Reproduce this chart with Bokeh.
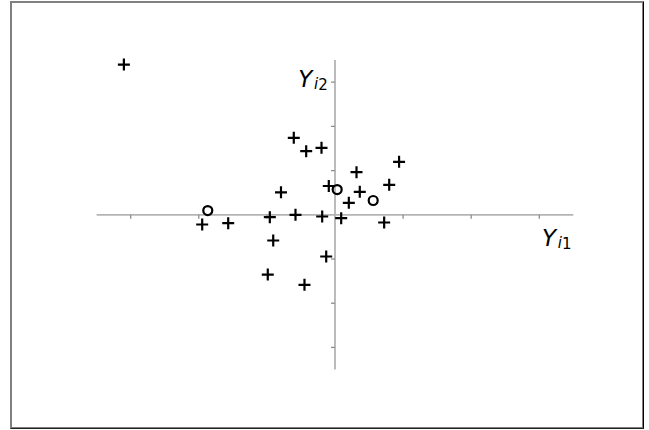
from bokeh.plotting import figure
from bokeh.models import Span, Label
from bokeh.embed import file_html
from bokeh.resources import INLINE

# data: plus markers (Y_i1, Y_i2)
plus_y1 = [-3.10, -0.605, -0.423, -0.198, 0.941, 0.316, 0.796, -0.091, 0.364, -0.793, 0.203,
           -0.957, -0.580, -0.188, 0.091, -1.950, -1.568, 0.722, -0.907, -0.129, -0.987, -0.448]
plus_y2 = [3.40, 1.742, 1.439, 1.516, 1.199, 0.964, 0.679, 0.652, 0.520, 0.509, 0.271,
           -0.054, 0.0, -0.038, -0.077, -0.219, -0.190, -0.174, -0.581, -0.943, -1.351, -1.584]
# data: circle markers
circ_y1 = [-1.868, 0.032, 0.561]
circ_y2 = [0.097, 0.572, 0.324]
# axes
axis_extent = 3.5
x_ticks = [-3, -2, -1, 1, 2, 3]
y_ticks = [-3, -2, -1, 1, 2, 3]

XS, XE = -4.765, 4.545
YS, YE = -4.857, 4.826

p = figure(width=634, height=428, x_range=(XS, XE), y_range=(YS, YE),
           output_backend="svg", toolbar_location=None, min_border=0,
           styles={"margin-left": "10px", "margin-top": "1px"})
p.axis.visible = False
p.grid.visible = False
p.background_fill_color = "white"
p.border_fill_color = "white"
p.outline_line_color = "#808080"
p.outline_line_width = 3

p.add_layout(Span(location=XE, dimension="height", line_color="black", line_width=3))
p.add_layout(Span(location=YS, dimension="width", line_color="#202020", line_width=3))

axis_col = "#b4b4b4"
tick_col = "#8c8c8c"
# axis lines
p.segment(x0=[-axis_extent], y0=[0], x1=[axis_extent], y1=[0], line_color=axis_col, line_width=1.8)
p.segment(x0=[0], y0=[-axis_extent], x1=[0], y1=[axis_extent], line_color=axis_col, line_width=1.8)
# ticks (4px long)
tx = 4 / 68.1
ty = 4 / 44.2
p.segment(x0=x_ticks, y0=[0] * len(x_ticks), x1=x_ticks, y1=[-ty] * len(x_ticks),
          line_color=tick_col, line_width=1.3)
p.segment(x0=[0] * len(y_ticks), y0=y_ticks, x1=[-tx] * len(y_ticks), y1=y_ticks,
          line_color=tick_col, line_width=1.3)

# markers
p.scatter(plus_y1, plus_y2, marker="cross", size=12, line_color="black", line_width=2.2)
p.scatter(circ_y1, circ_y2, marker="circle", size=9, fill_color=None, line_color="black", line_width=2.2)

font = "DejaVu Sans"
def lab(x, y, t, size, style):
    p.add_layout(Label(x=x, y=y, text=t, text_font=font, text_font_size=size,
                       text_font_style=style, text_color="black", text_baseline="alphabetic"))

# Y_i2 label
lab(-0.54, 3.07, "Y", "23px", "italic")
lab(-0.31, 2.957, "i", "15px", "italic")
lab(-0.245, 2.957, "2", "15px", "normal")
# Y_i1 label
lab(3.04, -0.52, "Y", "23px", "italic")
lab(3.27, -0.64, "i", "15px", "italic")
lab(3.335, -0.64, "1", "15px", "normal")

open("out.html", "w").write(file_html(p, INLINE))
